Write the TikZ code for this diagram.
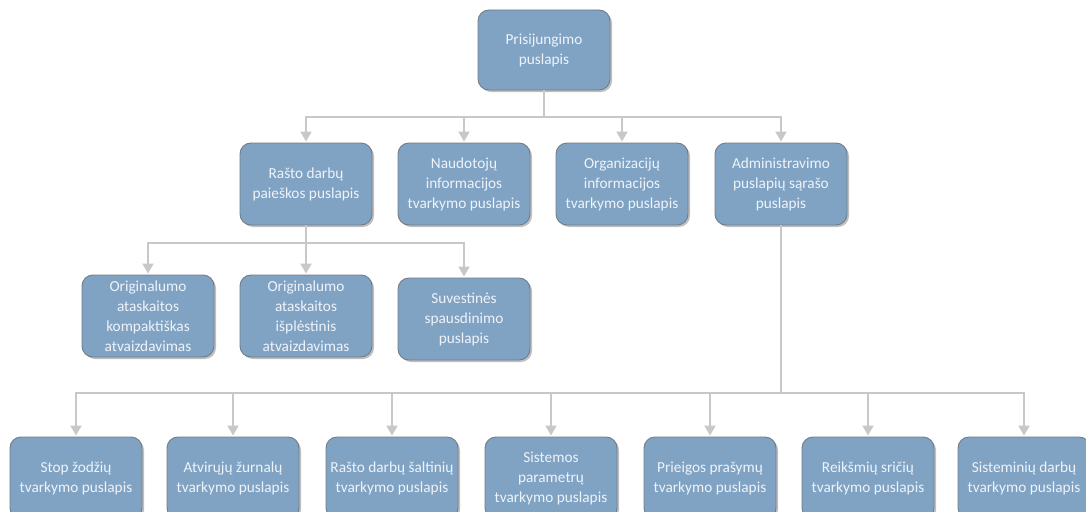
\documentclass[tikz,border=0pt]{standalone}
\usepackage{fontspec}
\setmainfont{Carlito}
\usepackage{tikz}
\usetikzlibrary{shapes,arrows,arrows.meta,positioning,shadows,calc}
\definecolor{boxfill}{RGB}{128,163,196}
\definecolor{boxline}{RGB}{112,124,136}
\definecolor{boxtext}{RGB}{238,243,249}
\definecolor{linegray}{RGB}{200,200,200}

\begin{document}
\begin{tikzpicture}[x=1pt,y=1pt,
  page/.style={rectangle, rounded corners=11pt, draw=boxline, line width=0.9pt,
    fill=boxfill, text=boxtext, minimum width=132pt, minimum height=82pt,
    align=center, inner sep=0pt,
    font=\fontsize{15.3}{20}\selectfont,
    drop shadow={shadow xshift=2pt, shadow yshift=-2pt, opacity=0.25, fill=black}},
  link/.style={draw=linegray, line width=2pt},
  arr/.style={link, -{Triangle[length=10pt,width=11pt]}, shorten >=1pt}]
\useasboundingbox (0,0) rectangle (1086,-511);

% Virsus
\node[page, minimum height=80pt] (prisij) at (544,-50) {Prisijungimo\\puslapis};

% Antras lygis
\node[page] (paieska) at (306,-184) {Rašto darbų\\paieškos puslapis};
\node[page] (naudot) at (464,-184) {Naudotojų\\informacijos\\tvarkymo puslapis};
\node[page] (organiz) at (622,-184) {Organizacijų\\informacijos\\tvarkymo puslapis};
\node[page] (admin) at (781,-184) {Administravimo\\puslapių sąrašo\\puslapis};

\coordinate (bus1) at (544,-117);
\draw[link] (prisij) -- (bus1);
\foreach \n in {paieska,naudot,organiz,admin}
  \draw[arr] (bus1) -| (\n);

% Paieskos vaikai
\node[page] (kompakt) at (148,-316) {Originalumo\\ataskaitos\\kompaktiškas\\atvaizdavimas};
\node[page] (isplest) at (306,-316) {Originalumo\\ataskaitos\\išplėstinis\\atvaizdavimas};
\node[page] (suvest) at (464,-319) {Suvestinės\\spausdinimo\\puslapis};

\coordinate (bus2) at (306,-243);
\draw[link] (paieska) -- (bus2);
\foreach \n in {kompakt,isplest,suvest}
  \draw[arr] (bus2) -| (\n);

% Administravimo vaikai
\node[page] (stop) at (76,-478) {Stop žodžių\\tvarkymo puslapis};
\node[page] (zurnal) at (233,-478) {Atvirųjų žurnalų\\tvarkymo puslapis};
\node[page] (saltin) at (392,-478) {Rašto darbų šaltinių\\tvarkymo puslapis};
\node[page] (param) at (551,-478) {Sistemos\\parametrų\\tvarkymo puslapis};
\node[page] (prieig) at (710,-478) {Prieigos prašymų\\tvarkymo puslapis};
\node[page] (sritys) at (868,-478) {Reikšmių sričių\\tvarkymo puslapis};
\node[page] (sistem) at (1024,-478) {Sisteminių darbų\\tvarkymo puslapis};

\coordinate (bus3) at (781,-393);
\draw[link] (admin) -- (bus3);
\foreach \n in {stop,zurnal,saltin,param,prieig,sritys,sistem}
  \draw[arr] (bus3) -| (\n);
\end{tikzpicture}
\end{document}
